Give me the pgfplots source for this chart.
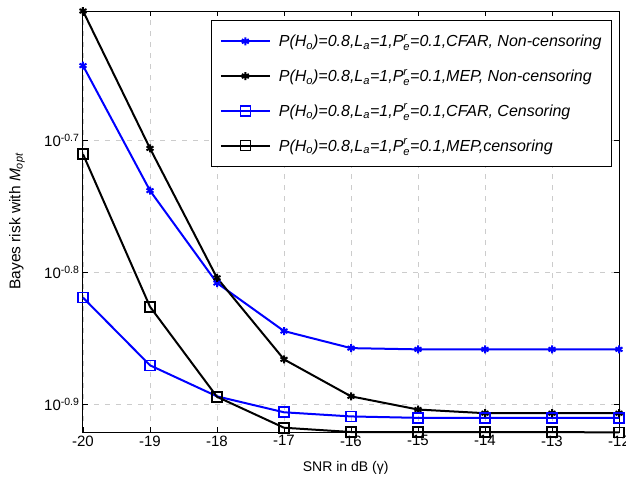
\documentclass[border=0pt]{standalone}
\usepackage{fontspec}
\setmainfont{Liberation Sans}
\usepackage{amsmath}
\usepackage{pgfplots}
\pgfplotsset{compat=1.18}
\newcommand{\Pe}{P$^{\text{r}}_{\text{e}}$}
\newcommand{\leg}[1]{P(H$_{\text{o}}$)=0.8,L$_{\text{a}}$=1,\Pe=0.1,#1}
\definecolor{mblue}{rgb}{0,0,1}
\begin{document}
\begin{tikzpicture}[font=\fontsize{15}{18}\selectfont]
\begin{axis}[
  scale only axis, width=536pt, height=421pt,
  font=\fontsize{15}{18}\selectfont,
  xmin=-20, xmax=-12, ymode=log, ymin=0.12, ymax=0.25,
  xtick={-20,-19,-18,-17,-16,-15,-14,-13,-12},
  ytick={0.199526,0.158489,0.125893},
  yticklabels={10\textsuperscript{-0.7},10\textsuperscript{-0.8},10\textsuperscript{-0.9}},
  yminorticks=false,
  /pgf/number format/assume math mode=true,
  grid=major,
  major grid style={black!20, dash pattern=on 5pt off 6pt, line width=0.8pt},
  axis line style={line width=1pt},
  major tick length=5pt,
  tick style={black, line width=0.8pt},
  xlabel={SNR in dB (γ)},
  ylabel={Bayes risk with \textit{M}$_{\text{\itshape opt}}$},
  xlabel style={at={(axis description cs:0.49,-0.086)}, anchor=center, font=\fontsize{14}{17}\selectfont},
  ylabel style={at={(axis description cs:-0.123,0.5)}, anchor=center, font=\fontsize{15.5}{18}\selectfont},
  legend style={at={(axis description cs:0.987,0.979)}, anchor=north east,
    font=\itshape\fontsize{16}{19}\selectfont, draw=black, line width=1pt,
    row sep=17pt, inner xsep=8pt, inner ysep=12pt},
  legend cell align=left,
  legend image code/.code={\draw[mark repeat=2,mark phase=2] plot coordinates {(0pt,0pt) (24.5pt,0pt) (49pt,0pt)};\path (55pt,0pt);},
  clip=false,
]
\addplot[mblue, line width=2pt, mark=asterisk, mark size=4pt, mark options={line width=2pt}] coordinates {
(-20,0.2273) (-19,0.1828) (-18,0.1556) (-17,0.1431) (-16,0.1389) (-15,0.1386) (-14,0.1386) (-13,0.1386) (-12,0.1386)};
\addlegendentry{\leg{CFAR, Non-censoring}}
\addplot[black, line width=2pt, mark=asterisk, mark size=4pt, mark options={line width=2pt}] coordinates {
(-20,0.2500) (-19,0.1968) (-18,0.1570) (-17,0.1362) (-16,0.1277) (-15,0.1248) (-14,0.1240) (-13,0.1240) (-12,0.1240)};
\addlegendentry{\leg{MEP, Non-censoring}}
\addplot[mblue, line width=2pt, mark=square, mark size=5pt, mark options={line width=1.6pt}] coordinates {
(-20,0.1517) (-19,0.1348) (-18,0.1277) (-17,0.1242) (-16,0.1233) (-15,0.1230) (-14,0.1230) (-13,0.1230) (-12,0.1230)};
\addlegendentry{\leg{CFAR, Censoring}}
\addplot[black, line width=2pt, mark=square, mark size=5pt, mark options={line width=1.6pt}] coordinates {
(-20,0.1948) (-19,0.1493) (-18,0.1276) (-17,0.1209) (-16,0.1200) (-15,0.1200) (-14,0.1200) (-13,0.1200) (-12,0.1199)};
\addlegendentry{\leg{MEP,censoring}}
\end{axis}
\pgfresetboundingbox
\path (current axis.south west) ++(-83pt,-47pt) rectangle ++(626pt,479pt);
\end{tikzpicture}
\end{document}
